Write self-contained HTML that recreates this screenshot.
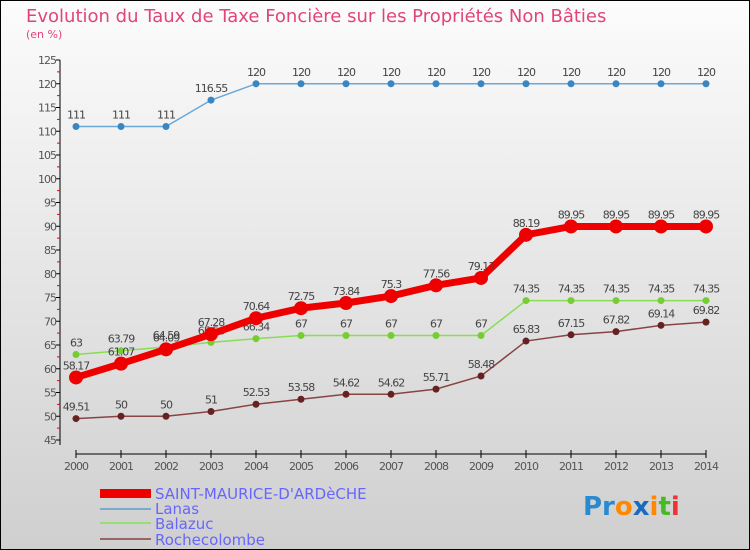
<!DOCTYPE html>
<html><head><meta charset="utf-8"><style>
body{margin:0;}
#c{width:750px;height:550px;position:relative;overflow:hidden;font-family:"DejaVu Sans","Liberation Sans",sans-serif;}
</style></head><body>
<div id="c">
<svg width="750" height="550" viewBox="0 0 750 550" id="svg">
<defs><linearGradient id="bg" x1="0" y1="0" x2="0" y2="1"><stop offset="0" stop-color="#fcfcfc"/><stop offset="1" stop-color="#cfcfcf"/></linearGradient></defs>
<rect x="0.5" y="0.5" width="749" height="549" fill="url(#bg)" stroke="#000"/>
<text x="26" y="22" font-size="18" fill="#e0447a">Evolution du Taux de Taxe Foncière sur les Propriétés Non Bâties</text>
<text x="26" y="38" font-size="11" fill="#e0447a">(en %)</text>
<g id="axes"></g><g id="series"></g>
<g font-size="15" fill="#6666ff">
<rect x="100" y="489" width="51" height="9" fill="#ee0000"/>
<text x="155" y="499">SAINT-MAURICE-D'ARDèCHE</text>
<line x1="100" y1="509" x2="151" y2="509" stroke="#7aaacc" stroke-width="2"/>
<text x="155" y="514">Lanas</text>
<line x1="100" y1="523" x2="151" y2="523" stroke="#99dd77" stroke-width="2"/>
<text x="155" y="529">Balazuc</text>
<line x1="100" y1="539" x2="151" y2="539" stroke="#996666" stroke-width="2"/>
<text x="155" y="545">Rochecolombe</text>
</g>
<text x="583" y="515" font-size="26" font-weight="bold"><tspan fill="#2a8ad0">Pr</tspan><tspan fill="#ff8800">o</tspan><tspan fill="#1a6ac0">x</tspan><tspan fill="#ff8800">i</tspan><tspan fill="#44bb22">t</tspan><tspan fill="#ee3333">i</tspan></text>
</svg></div>
<script>
const years=["2000","2001","2002","2003","2004","2005","2006","2007","2008","2009","2010","2011","2012","2013","2014"];
const sma=[58.17,61.07,64.09,67.28,70.64,72.75,73.84,75.3,77.56,79.11,88.19,89.95,89.95,89.95,89.95];
const lanas=[111,111,111,116.55,120,120,120,120,120,120,120,120,120,120,120];
const balazuc=[63,63.79,64.59,65.56,66.34,67,67,67,67,67,74.35,74.35,74.35,74.35,74.35];
const roche=[49.51,50,50,51,52.53,53.58,54.62,54.62,55.71,58.48,65.83,67.15,67.82,69.14,69.82];
const yTicks=[45,50,55,60,65,70,75,80,85,90,95,100,105,110,115,120,125];
const NS="http://www.w3.org/2000/svg";
function X(i){return 76+i*45;}
function Y(v){return 440-(v-45)*4.75;}
function mk(p,tag,at,txt){const e=document.createElementNS(NS,tag);for(const k in at)e.setAttribute(k,at[k]);if(txt!==undefined)e.textContent=txt;p.appendChild(e);return e;}
const ax=document.getElementById('axes');
let e=mk(ax,'line',{x1:60,y1:60,x2:60,y2:445,stroke:'#000'});

e=mk(ax,'line',{x1:76,y1:454,x2:706,y2:454,stroke:'#000'});

yTicks.forEach(v=>{
 mk(ax,'line',{x1:56,y1:Y(v),x2:60,y2:Y(v),stroke:'#000'});
 if(v<125)mk(ax,'line',{x1:57,y1:Y(v+2.5),x2:60,y2:Y(v+2.5),stroke:'#e00'});
 const t=mk(ax,'text',{x:56,y:Y(v)+4,'font-size':11,'text-anchor':'end',fill:'#555','letter-spacing':'-1'},v);
 
});
years.forEach((y,i)=>{
 mk(ax,'line',{x1:X(i),y1:450,x2:X(i),y2:458,stroke:'#000'});
 const t=mk(ax,'text',{x:X(i),y:470,'font-size':11,'text-anchor':'middle',fill:'#555','letter-spacing':'-1'},y);
 
});
const sg=document.getElementById('series');
function draw(name,data,color,w,r,dot){
 const g=mk(sg,'g',{});
 
 const pl=mk(g,'polyline',{points:data.map((v,i)=>X(i)+','+Y(v)).join(' '),fill:'none',stroke:color,'stroke-width':w});
 
 data.forEach((v,i)=>{
  const c=mk(g,'circle',{cx:X(i),cy:Y(v),r:r,fill:dot});
  
  const t=mk(g,'text',{x:X(i),y:Y(v)-8,'font-size':11,'text-anchor':'middle',fill:'#444','letter-spacing':'-1'},String(v));
  
 });
}
draw('lanas',lanas,'#6aa8d8',1.5,3.5,'#3a86c0');
draw('balazuc',balazuc,'#88dd55',1.5,3.5,'#77cc33');
draw('rochecolombe',roche,'#884444',1.5,3.5,'#662222');
draw('saint-maurice',sma,'#ee0000',7,7,'#ee0000');
</script>
</body></html>
